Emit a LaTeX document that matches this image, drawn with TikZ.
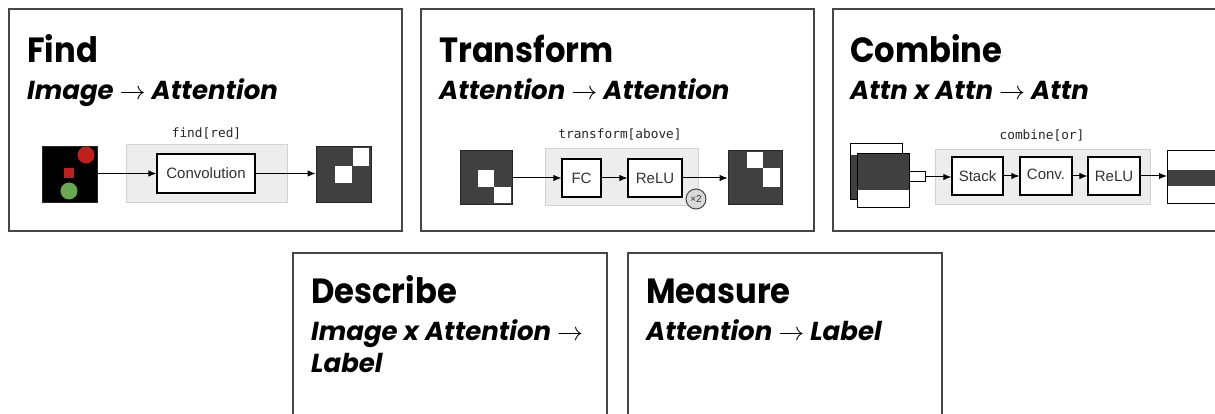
\RequirePackage{fix-cm}
\documentclass[tikz,border=0pt]{standalone}
\usepackage{fontspec}
\setmainfont{Liberation Sans}
\newfontfamily\headfont{Poppins}
\newfontfamily\titlefont{Poppins}[FakeStretch=0.92]
\newfontfamily\codefont{DejaVu Sans Mono}
\usetikzlibrary{arrows.meta}

\definecolor{framegray}{HTML}{464646}
\definecolor{mapdark}{HTML}{404040}
\definecolor{boxtext}{HTML}{333333}
\definecolor{groupfill}{HTML}{EDEDED}
\definecolor{groupline}{HTML}{D2D2D2}
\definecolor{redobj}{HTML}{C0201C}
\definecolor{greenobj}{HTML}{6AA84F}

\tikzset{
  panel/.style={draw=framegray, line width=2pt},
  titletext/.style={anchor=base west, inner sep=0pt,
    font=\titlefont\bfseries\fontsize{35}{40}\selectfont},
  subtext/.style={anchor=base west, inner sep=0pt,
    font=\headfont\bfseries\itshape\fontsize{26}{30}\selectfont},
  codelabel/.style={anchor=base, inner sep=0pt,
    font=\codefont\fontsize{12.8}{14}\selectfont, text=black!85},
  group/.style={draw=groupline, fill=groupfill, line width=1pt},
  layer/.style={draw=black, fill=white, line width=1.2pt, inner sep=0pt,
    text=boxtext, font=\fontsize{15}{17}\selectfont},
  map/.style={draw=black!85, fill=mapdark, line width=0.8pt, inner sep=0pt},
  cell/.style={fill=white},
  flow/.style={-{Latex[length=8pt,width=6.5pt]}, line width=1pt, black},
}

\newcommand{\arr}{$\rightarrow$}

\begin{document}
\begin{tikzpicture}[x=1pt,y=-1pt]
\useasboundingbox (0,0) rectangle (1215,414);

% ---------- panel frames ----------
\draw[panel] (9,9) rectangle (402,231);
\draw[panel] (421,9) rectangle (814,231);
\draw[panel] (1220,9) -- (833,9) -- (833,231) -- (1220,231);
\draw[panel] (293,420) -- (293,253) -- (607,253) -- (607,420);
\draw[panel] (628,420) -- (628,253) -- (942,253) -- (942,420);

% ---------- headings ----------
\node[titletext] (t1) at (27,63) {Find};
\node[subtext]   (s1) at (27,100) {Image \arr{} Attention};
\node[titletext] (t2) at (439,63) {Transform};
\node[subtext]   (s2) at (439,100) {Attention \arr{} Attention};
\node[titletext] (t3) at (850,63) {Combine};
\node[subtext]   (s3) at (850,100) {Attn x Attn \arr{} Attn};
\node[titletext] (t4) at (311,303) {Describe};
\node[subtext]   (s4) at (311,340) {Image x Attention \arr};
\node[subtext]   (s4b) at (311,372) {Label};
\node[titletext] (t5) at (646,303) {Measure};
\node[subtext]   (s5) at (646,340) {Attention \arr{} Label};

% ---------- find[red] ----------
\node[codelabel] (c1) at (206.5,138) {find[red]};
\draw[group] (126,145) rectangle (287,203);
\node[map, fill=black, minimum width=55pt, minimum height=56pt] (img) at (69.5,174) {};
\fill[redobj] (86,155) circle (8.5);
\fill[redobj] (64,168) rectangle (74,178);
\fill[greenobj] (69,191) circle (8.5);
\node[layer, minimum width=98pt, minimum height=39pt] (conv) at (206,173.5) {Convolution};
\node[map, minimum width=55pt, minimum height=56pt] (att1) at (343.5,174) {};
\fill[cell] (353,148) rectangle (369,166);
\fill[cell] (335,166) rectangle (352,183);
\draw[flow] (img.east |- conv.west) -- (conv.west);
\draw[flow] (conv.east) -- (att1.west |- conv.east);

% ---------- transform[above] ----------
\node[codelabel] (c2) at (620,139) {transform[above]};
\draw[group] (545,149) rectangle (698,206);
\node[map, minimum width=52pt, minimum height=54pt] (tin) at (486,177) {};
\fill[cell] (478,170) rectangle (494,187);
\fill[cell] (494,187) rectangle (511,203);
\node[layer, minimum width=39pt, minimum height=38pt] (fc) at (581.5,178) {FC};
\node[layer, minimum width=54pt, minimum height=38pt] (relu1) at (655,178) {ReLU};
\node[draw=framegray, fill=black!15, line width=1pt, circle, minimum size=20pt,
  inner sep=0pt, font=\fontsize{10}{11}\selectfont, text=boxtext] (rep) at (696,199) {×2};
\node[map, minimum width=54pt, minimum height=54pt] (tout) at (755,177) {};
\fill[cell] (747,152) rectangle (763,168);
\fill[cell] (763,168) rectangle (780,187);
\draw[flow] (tin.east |- fc.west) -- (fc.west);
\draw[flow] (fc) -- (relu1);
\draw[flow] (relu1.east) -- (tout.west |- relu1.east);

% ---------- combine[or] ----------
\node[codelabel] (c3) at (1042,140) {combine[or]};
\draw[group] (935,150) rectangle (1150,205);
% two stacked attention maps
\node[draw=black, fill=white, line width=1pt, minimum width=52pt, minimum height=56pt,
  inner sep=0pt] (back) at (876,172) {};
\fill[mapdark] (850.5,155) rectangle (901.5,199.5);
\node[draw=black, fill=white, line width=1pt, minimum width=52pt, minimum height=54pt,
  inner sep=0pt] (front) at (883,181) {};
\fill[mapdark] (857.5,154.5) rectangle (908.5,190);
\node[draw=black, fill=white, line width=1pt, minimum width=16pt, minimum height=10pt,
  inner sep=0pt, anchor=west] (tab) at (909,177) {};
\node[layer, minimum width=51pt, minimum height=38pt] (stack) at (977.5,176) {Stack};
\node[layer, minimum width=52pt, minimum height=38pt] (conv2) at (1046,176) {\raisebox{3pt}{Conv.}};
\node[layer, minimum width=52pt, minimum height=38pt] (relu2) at (1114,176) {ReLU};
\node[draw=black, fill=white, line width=1pt, minimum width=70pt, minimum height=53pt,
  inner sep=0pt, anchor=west] (cout) at (1167,177.5) {};
\fill[mapdark] (1167.5,170) rectangle (1240,186);
\draw[flow] (tab.east) -- (stack.west |- tab.east);
\draw[flow] (stack) -- (conv2);
\draw[flow] (conv2) -- (relu2);
\draw[flow] (relu2.east) -- (cout.west |- relu2.east);
\end{tikzpicture}
\end{document}
